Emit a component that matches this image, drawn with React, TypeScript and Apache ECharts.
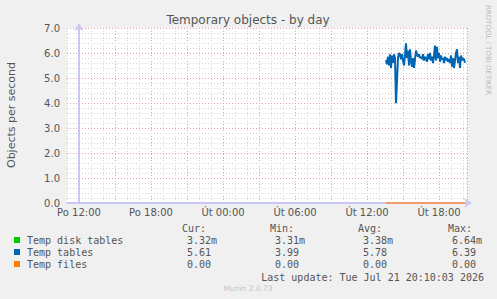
import React, { useEffect, useRef } from "react";
import * as echarts from "echarts";

const chartTitle = "Temporary objects - by day";
const yAxisTitle = "Objects per second";
const sideCredit = "RRDTOOL / TOBI OETIKER";
const footer = "Munin 2.0.73";
const lastUpdate = "Last update: Tue Jul 21 20:10:03 2026";

// x axis in hours relative to "Po 12:00"; grid lines every hour, red every 3 hours
const xMinHour = -1;
const xMaxHour = 32.3333;
const xLabelHours = [0, 6, 12, 18, 24, 30];
const xTickLabels = ["Po 12:00", "Po 18:00", "Út 00:00", "Út 06:00", "Út 12:00", "Út 18:00"];
const yMin = 0;
const yMax = 7;

// samples every 5 minutes starting Út 13:35
const seriesStartHour = 25.5833;
const seriesStepHours = 5 / 60;

const tempTables = [
  5.72, 5.55, 5.85, 5.5, 5.95, 5.4, 5.9, 5.6, 5.95, 5.8,
  3.99, 4.9, 5.8, 6.0, 5.95, 5.75, 5.95, 5.7, 5.5, 5.9,
  6.39, 5.8, 6.1, 5.5, 6.15, 5.7, 5.45, 5.8, 5.4, 5.75,
  6.1, 5.95, 5.85, 5.95, 5.8, 5.85, 5.75, 5.95, 5.7, 5.85,
  5.8, 5.65, 5.95, 5.75, 6.0, 5.7, 5.85, 5.6, 5.9, 6.3,
  5.7, 6.25, 5.8, 6.0, 5.65, 5.9, 5.75, 5.8, 5.6, 5.85,
  5.7, 5.8, 5.65, 5.75, 5.6, 5.9, 5.45, 5.8, 5.4, 5.7,
  6.0, 6.15, 5.6, 5.85, 5.4, 5.9, 5.7, 5.8, 5.75, 5.61,
];

const tempDiskTables = [
  0.00332, 0.00331, 0.00333, 0.00332, 0.00331, 0.00334, 0.00332, 0.00331, 0.00333, 0.00332,
  0.00331, 0.00332, 0.00333, 0.00331, 0.00332, 0.00334, 0.00331, 0.00332, 0.00333, 0.00331,
  0.00332, 0.00331, 0.00333, 0.00332, 0.00664, 0.00332, 0.00331, 0.00333, 0.00332, 0.00331,
  0.00333, 0.00332, 0.00331, 0.00332, 0.00334, 0.00331, 0.00332, 0.00333, 0.00331, 0.00332,
  0.00331, 0.00333, 0.00332, 0.00331, 0.00332, 0.00333, 0.00331, 0.00332, 0.00334, 0.00331,
  0.00332, 0.00333, 0.00331, 0.00332, 0.00331, 0.00333, 0.00332, 0.00331, 0.00332, 0.00333,
  0.00331, 0.00332, 0.00334, 0.00331, 0.00332, 0.00333, 0.00331, 0.00332, 0.00331, 0.00333,
  0.00332, 0.00331, 0.00332, 0.00333, 0.00331, 0.00332, 0.00334, 0.00331, 0.00332, 0.00332,
];

const tempFiles = [
  0, 0, 0, 0, 0, 0, 0, 0, 0, 0,
  0, 0, 0, 0, 0, 0, 0, 0, 0, 0,
  0, 0, 0, 0, 0, 0, 0, 0, 0, 0,
  0, 0, 0, 0, 0, 0, 0, 0, 0, 0,
  0, 0, 0, 0, 0, 0, 0, 0, 0, 0,
  0, 0, 0, 0, 0, 0, 0, 0, 0, 0,
  0, 0, 0, 0, 0, 0, 0, 0, 0, 0,
  0, 0, 0, 0, 0, 0, 0, 0, 0, 0,
];

const legendNames = ["Temp disk tables", "Temp tables", "Temp files"];
const legendColors = ["#00CC00", "#0066B3", "#FF8000"];
const columnHeaders = ["Cur:", "Min:", "Avg:", "Max:"];
const curValues = ["3.32m", "5.61", "0.00"];
const minValues = ["3.31m", "3.99", "0.00"];
const avgValues = ["3.38m", "5.78", "0.00"];
const maxValues = ["6.64m", "6.39", "0.00"];

export default function App() {
  const ref = useRef<HTMLDivElement>(null);

  useEffect(() => {
    const el = ref.current;
    if (!el) return;
    const chart = echarts.init(el, null, { renderer: "svg" });

    const toPoints = (vals: number[]) =>
      vals.map((v, i) => [seriesStartHour + i * seriesStepHours, v]);

    const textCol = "#555555";
    const mono = "DejaVu Sans Mono";
    const sans = "DejaVu Sans";
    const majorGrid = "#E6A0A0";
    const minorGrid = "#D6D6D6";
    const axisColor = "#C8C8F4";

    const txt = (text: string, x: number, y: number, opts: any = {}) => ({
      type: "text",
      x,
      y,
      rotation: opts.rotation || 0,
      silent: true,
      style: {
        text,
        x: 0,
        y: 0,
        fill: opts.fill || textCol,
        font: opts.font || `10px '${mono}'`,
        textAlign: opts.align || "left",
        align: opts.align || "left",
        textVerticalAlign: "middle",
        verticalAlign: "middle",
      },
    });

    const rowYs = [240, 252, 264];
    const colXs = [182, 270, 358, 448];
    const valXs = [187, 275, 363, 452];
    const colVals = [curValues, minValues, avgValues, maxValues];

    const graphics: any[] = [];
    graphics.push(txt(chartTitle, 248, 20, { font: `12px '${sans}'`, align: "center" }));
    graphics.push(
      txt(yAxisTitle, 11, 115, { font: `11px '${sans}'`, align: "center", rotation: Math.PI / 2 })
    );
    graphics.push(
      txt(sideCredit, 488, 5, { font: `7px '${sans}'`, fill: "#BBBBBB", rotation: -Math.PI / 2 })
    );
    graphics.push(txt(footer, 248, 288, { font: `7.5px '${sans}'`, fill: "#C4C4C4", align: "center" }));
    columnHeaders.forEach((h, c) => graphics.push(txt(h, colXs[c], 228)));
    legendNames.forEach((name, r) => {
      graphics.push({
        type: "rect",
        silent: true,
        shape: { x: 14, y: rowYs[r] - 3, width: 6, height: 6 },
        style: { fill: legendColors[r] },
      });
      graphics.push(txt(name, 27, rowYs[r]));
      colVals.forEach((vals, c) => graphics.push(txt(vals[r], valXs[c], rowYs[r])));
    });
    graphics.push(txt(lastUpdate, 484, 277, { align: "right" }));

    const option: any = {
      animation: false,
      backgroundColor: "#F0F0F0",
      textStyle: { fontFamily: sans },
      grid: {
        left: 67,
        top: 28,
        width: 400,
        height: 175,
        show: true,
        backgroundColor: "#FFFFFF",
        borderWidth: 0,
      },
      xAxis: [
        {
          type: "value",
          min: xMinHour,
          max: xMaxHour,
          z: 2,
          axisLine: {
            show: true,
            lineStyle: { color: axisColor, width: 2 },
            symbol: ["none", "arrow"],
            symbolSize: [7, 8],
            symbolOffset: [0, 5],
          },
          axisTick: { show: false },
          axisLabel: {
            customValues: xLabelHours,
            formatter: (v: number) => {
              const idx = xLabelHours.indexOf(Math.round(v));
              return idx >= 0 ? xTickLabels[idx] : "";
            },
            color: textCol,
            fontFamily: sans,
            fontSize: 10,
            margin: 4,
          },
          splitLine: { show: false },
        },
        {
          type: "value",
          min: xMinHour,
          max: xMaxHour,
          interval: 1,
          z: 0,
          axisLine: { show: false },
          axisTick: { show: false },
          axisLabel: { show: false },
          splitLine: {
            show: true,
            lineStyle: { color: [minorGrid, majorGrid, minorGrid], type: [1, 2], width: 1 },
          },
        },
      ],
      yAxis: {
        type: "value",
        min: yMin,
        max: yMax,
        interval: 1,
        z: 1,
        axisLine: {
          show: true,
          lineStyle: { color: axisColor, width: 2 },
          symbol: ["none", "arrow"],
          symbolSize: [7, 8],
          symbolOffset: [0, 5],
        },
        axisTick: { show: false },
        axisLabel: {
          formatter: (v: number) => v.toFixed(1),
          color: textCol,
          fontFamily: sans,
          fontSize: 10,
          margin: 7,
        },
        splitLine: { show: true, lineStyle: { color: majorGrid, type: [1, 2], width: 1 } },
        minorTick: { show: false, splitNumber: 5 },
        minorSplitLine: { show: true, lineStyle: { color: minorGrid, type: [1, 2], width: 1 } },
      },
      series: [
        {
          type: "line",
          name: legendNames[0],
          xAxisIndex: 0,
          data: toPoints(tempDiskTables),
          showSymbol: false,
          silent: true,
          z: 20,
          lineStyle: { color: legendColors[0], width: 1 },
          itemStyle: { color: legendColors[0] },
        },
        {
          type: "line",
          name: legendNames[1],
          xAxisIndex: 0,
          data: toPoints(tempTables),
          showSymbol: false,
          silent: true,
          z: 21,
          lineStyle: { color: legendColors[1], width: 2 },
          itemStyle: { color: legendColors[1] },
        },
        {
          type: "line",
          name: legendNames[2],
          xAxisIndex: 0,
          data: toPoints(tempFiles),
          showSymbol: false,
          silent: true,
          z: 22,
          lineStyle: { color: "#EE9C6C", width: 2 },
          itemStyle: { color: legendColors[2] },
        },
      ],
      graphic: graphics,
    };

    chart.setOption(option);
    return () => chart.dispose();
  }, []);

  return (
    <div
      ref={ref}
      style={{
        position: "absolute",
        left: 0,
        top: 0,
        width: 497,
        height: 299,
        background: "#F0F0F0",
      }}
    />
  );
}
